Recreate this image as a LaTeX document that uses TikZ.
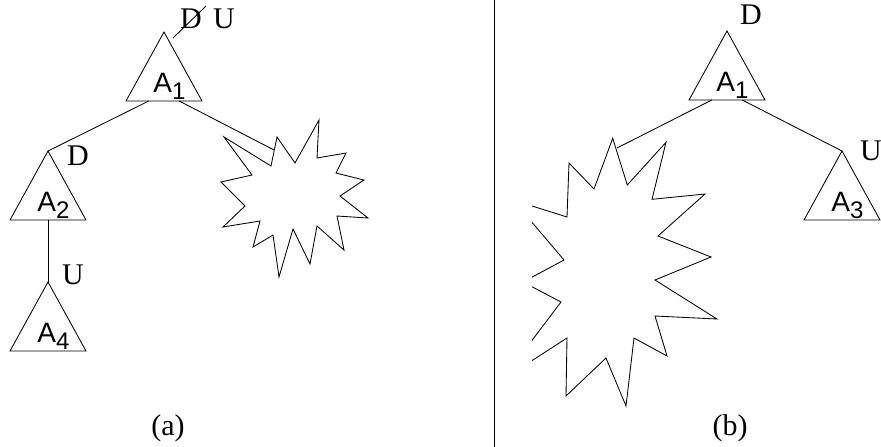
\documentclass[tikz,border=0pt]{standalone}
\usepackage{fontspec}
\setmainfont{Liberation Serif}
\newfontfamily\arialf{Liberation Sans}
\usetikzlibrary{calc}

\begin{document}
\begin{tikzpicture}[
        x=1pt,y=-1pt,line width=0.85pt,
        tag/.style={font=\fontsize{30}{32}\selectfont,inner sep=0pt},
        sub/.style={font=\arialf\fontsize{28}{30}\selectfont,inner sep=0pt,anchor=base west}]
        \useasboundingbox (0,0) rectangle (881,447);
        % subtrees (triangles) with their labels
        \foreach \n/\x/\y/\t in {la1/164/32/1, la2/48/151/2, la4/48/282/4,
                                 ra1/727/31/1, ra3/842/151/3}{
          \draw (\x,\y) coordinate (\n-top) -- ++(38,69) coordinate (\n-r)
            -- ++(-76,0) coordinate (\n-l) -- cycle;
          \node[sub] (\n) at (\x-11,\y+60)
            {A\raisebox{-7pt}{\fontsize{24}{26}\selectfont \t}};
        }
        % (a)
        \node[tag] (d0) at (191,19) {D};
        \node[tag] (u0) at (224,19) {U};
        \draw ($(d0)+(-18,19)$) -- ($(d0)+(15,-13)$);
        \node[tag] (d2) at (78,156) {D};
        \node[tag] (u4) at (73,275) {U};
        \coordinate (hitl) at (274,150);
        \draw (277,137) -- (295,163) -- (319,120) -- (317,158) -- (346,153)
          -- (336,173) -- (364,180) -- (340,196) -- (368,218) -- (337,216)
          -- (344,250) -- (317,226) -- (310,264) -- (293,229) -- (279,277)
          -- (273,235) -- (253,247) -- (260,221) -- (223,227) -- (245,206)
          -- (221,182) -- (252,175) -- (224,137) -- (271,166) -- cycle;
        \draw ($(la1-l)!0.3!(la1-r)$) -- (la2-top);
        \draw ($(la1-l)!0.7!(la1-r)$) -- (hitl);
        \draw ($(la2-l)!0.5!(la2-r)$) -- (la4-top);
        \node[tag] (ca) at (168,428) {(a)};
        % divider
        \draw (494,0) -- (494,447);
        % (b)
        \node[tag] (d1) at (751,15) {D};
        \node[tag] (u3) at (871,151) {U};
        \coordinate (hitr) at (617,148);
        \begin{scope}
          \clip (532,0) rectangle (881,447);
          \draw (612.7,138.3) -- (627.3,185) -- (666,142.3) -- (652,199.3)
            -- (705,194) -- (658,236) -- (711,257) -- (655,280) -- (717,319)
            -- (655,316) -- (667,356) -- (634,338) -- (626,406) -- (606,358)
            -- (566,396) -- (567,338) -- (502,380) -- (561,302) -- (523,282)
            -- (564,260) -- (513,200) -- (567,217) -- (569,163) -- (594,189)
            -- cycle;
        \end{scope}
        \draw ($(ra1-l)!0.3!(ra1-r)$) -- (hitr);
        \draw ($(ra1-l)!0.7!(ra1-r)$) -- (ra3-top);
        \node[tag] (cb) at (730,428) {(b)};
      \end{tikzpicture}
\end{document}
